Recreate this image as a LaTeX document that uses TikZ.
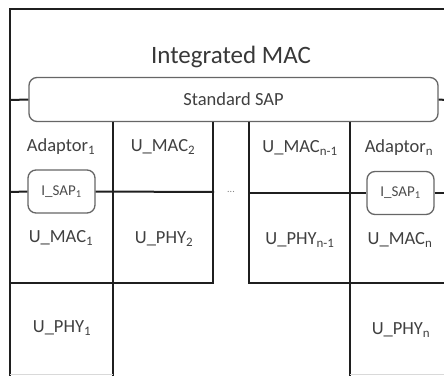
\documentclass[tikz,border=0pt]{standalone}
\usepackage{fontspec}
\setmainfont{Carlito}
\begin{document}
\begin{tikzpicture}[x=1pt,y=-1pt,
  frame/.style={line width=2pt, draw=black!88},
  faint/.style={line width=1pt, draw=black!15},
  sapbox/.style={draw=black!60, line width=1.3pt, rounded corners=8pt, fill=white, inner sep=0pt},
  lbl/.style={text=black!75, font=\fontsize{18.5}{20}\selectfont, inner sep=0pt},
  small/.style={text=black!70, font=\fontsize{15}{17}\selectfont}]
\useasboundingbox (0,0) rectangle (444,375);
% title
\node[text=black!78, font=\fontsize{25}{30}\selectfont, inner sep=0pt] (title) at (231,57) {Integrated MAC};
% Standard SAP
\node[sapbox, lbl, minimum width=409pt, minimum height=44pt] (ssap) at (233.5,99.5) {Standard SAP};
% I_SAP boxes
\node[sapbox, small, minimum width=67pt, minimum height=43pt] (isap1) at (61.5,191.5) {I\_SAP\textsubscript{1}};
\node[sapbox, small, minimum width=67pt, minimum height=43pt] (isapn) at (400.5,193) {I\_SAP\textsubscript{1}};
% outer frame
\draw[frame] (444,9) -- (10,9) -- (10,376);
% connectors of Standard SAP
\draw[frame] (10,100) -- (ssap.west);
\draw[frame] (ssap.east) -- (446,100);
% column lines
\draw[frame] (113,121.5) -- (113,376);
\draw[frame] (213,121.5) -- (213,284);
\draw[frame] (249,121.5) -- (249,284);
\draw[frame] (350,121.5) -- (350,376);
% I_SAP level lines
\draw[frame] (10,192) -- (isap1.west);
\draw[frame] (isap1.east) -- (214,192);
\draw[frame] (248,193) -- (isapn.west);
\draw[frame] (isapn.east) -- (446,193);
% row lines
\draw[frame] (9,283) -- (214,283);
\draw[frame] (248,283) -- (446,283);
% faint bottom
\draw[faint] (10,374) -- (113,374);
\draw[faint] (350,374) -- (444,374);
% labels
\node[lbl] (ad1) at (61,147) {Adaptor\textsubscript{1}};
\node[lbl] (um2) at (163,147) {U\_MAC\textsubscript{2}};
\node[lbl] (umn1) at (300,148) {U\_MAC\textsubscript{n-1}};
\node[lbl] (adn) at (399,148) {Adaptor\textsubscript{n}};
\node[lbl] (um1) at (61,238) {U\_MAC\textsubscript{1}};
\node[lbl] (up2) at (164,239) {U\_PHY\textsubscript{2}};
\node[lbl] (upn1) at (300,240) {U\_PHY\textsubscript{n-1}};
\node[lbl] (umn) at (400,240) {U\_MAC\textsubscript{n}};
\node[lbl] (up1) at (62,328) {U\_PHY\textsubscript{1}};
\node[lbl] (upn) at (401,330) {U\_PHY\textsubscript{n}};
\node[text=black!50, font=\fontsize{10}{12}\selectfont, inner sep=0pt] (dots) at (231,192) {...};
\end{tikzpicture}
\end{document}
